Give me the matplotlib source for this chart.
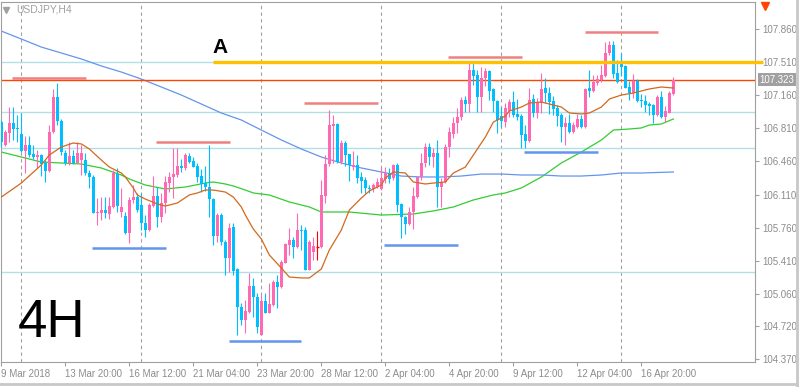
import numpy as np
import matplotlib
matplotlib.use('Agg')
from matplotlib import pyplot as plt
from matplotlib.lines import Line2D

# USDJPY H4 candles
opens = [106.877, 106.634, 106.761, 106.866, 106.814, 106.750, 106.571, 106.634, 106.539, 106.507,
         106.528, 106.444, 106.359, 106.771, 107.141, 106.888, 106.549, 106.444, 106.518, 106.444,
         106.475, 106.475, 106.338, 106.296, 105.915, 105.915, 105.947, 105.905, 105.979, 106.327,
         105.926, 105.884, 105.704, 106.053, 106.084, 106.000, 105.810, 105.736, 105.989, 106.095,
         105.873, 106.021, 106.232, 106.296, 106.317, 106.412, 106.391, 106.518, 106.465, 106.412,
         106.306, 106.232, 106.190, 106.063, 105.672, 105.894, 105.609, 105.440, 105.767, 105.324,
         104.922, 104.785, 104.869, 105.144, 105.028, 104.626, 104.986, 104.859, 104.943, 105.186,
         105.134, 105.387, 105.577, 105.630, 105.556, 105.736, 105.736, 105.313, 105.503, 105.556,
         105.556, 106.095, 106.433, 106.835, 106.856, 106.454, 106.655, 106.539, 106.401, 106.423,
         106.296, 106.264, 106.180, 106.169, 106.190, 106.169, 106.275, 106.338, 106.285, 106.423,
         106.011, 105.873, 105.799, 105.926, 106.084, 106.296, 106.444, 106.613, 106.507, 106.549,
         106.190, 106.243, 106.613, 106.750, 106.866, 106.930, 107.109, 107.067, 107.426, 107.374,
         107.141, 107.342, 107.416, 107.226, 107.099, 106.940, 106.877, 106.993, 107.088, 106.962,
         106.940, 106.750, 106.676, 107.120, 106.972, 107.078, 107.236, 107.183, 107.099, 107.025,
         106.951, 106.824, 106.866, 106.771, 106.824, 106.909, 106.824, 107.236, 107.205, 107.289,
         107.321, 107.363, 107.606, 107.691, 107.395, 107.500, 107.469, 107.247, 107.183, 107.310,
         107.109, 107.099, 107.067, 107.057, 106.951, 107.141, 106.930, 106.972, 107.173]
highs = [106.898, 106.792, 107.035, 107.035, 106.951, 106.972, 106.729, 106.729, 106.634, 106.581,
         106.539, 106.475, 106.845, 107.226, 107.289, 106.909, 106.581, 106.666, 106.581, 106.666,
         106.634, 106.549, 106.370, 106.317, 106.074, 106.084, 106.084, 106.084, 106.370, 106.391,
         106.180, 105.926, 106.084, 106.211, 106.127, 106.127, 105.894, 106.021, 106.306, 106.190,
         106.127, 106.306, 106.349, 106.602, 106.602, 106.486, 106.549, 106.549, 106.507, 106.444,
         106.380, 106.412, 106.634, 106.074, 105.915, 105.915, 105.630, 105.810, 105.810, 105.334,
         104.965, 104.996, 105.282, 105.229, 105.070, 105.049, 105.070, 105.176, 105.208, 105.260,
         105.419, 105.599, 105.757, 105.662, 105.915, 105.789, 105.767, 105.630, 105.662, 105.725,
         106.264, 106.528, 107.004, 106.951, 106.866, 106.687, 106.676, 106.539, 106.571, 106.528,
         106.349, 106.296, 106.211, 106.232, 106.285, 106.401, 106.401, 106.391, 106.433, 106.444,
         106.021, 105.884, 105.979, 106.190, 106.296, 106.549, 106.655, 106.655, 106.602, 106.687,
         106.285, 106.645, 106.824, 106.930, 107.025, 107.141, 107.152, 107.500, 107.500, 107.426,
         107.458, 107.447, 107.426, 107.236, 107.109, 107.035, 107.078, 107.120, 107.205, 107.120,
         106.962, 106.845, 107.236, 107.173, 107.131, 107.395, 107.342, 107.247, 107.152, 107.057,
         106.972, 106.930, 106.962, 106.877, 106.962, 106.951, 107.236, 107.426, 107.374, 107.374,
         107.479, 107.722, 107.733, 107.733, 107.532, 107.606, 107.479, 107.310, 107.384, 107.331,
         107.173, 107.162, 107.088, 107.067, 107.162, 107.205, 107.046, 107.205, 107.352]
lows = [106.613, 106.623, 106.666, 106.687, 106.666, 106.560, 106.338, 106.507, 106.486, 106.391,
        106.306, 106.243, 106.349, 106.761, 106.845, 106.528, 106.423, 106.423, 106.433, 106.444,
        106.317, 106.317, 106.180, 105.915, 105.789, 105.841, 105.863, 105.852, 105.968, 105.926,
        105.873, 105.694, 105.599, 106.021, 105.926, 105.736, 105.662, 105.725, 105.979, 105.767,
        105.820, 105.915, 106.137, 106.074, 106.296, 106.349, 106.370, 106.444, 106.401, 106.243,
        106.137, 106.148, 105.873, 105.577, 105.609, 105.577, 105.260, 105.292, 105.260, 104.626,
        104.732, 104.648, 104.859, 104.817, 104.648, 104.626, 104.859, 104.859, 104.933, 104.912,
        105.123, 105.387, 105.472, 105.440, 105.546, 105.525, 105.313, 105.313, 105.419, 105.419,
        105.546, 106.021, 106.412, 106.444, 106.444, 106.433, 106.412, 106.253, 106.370, 106.232,
        106.127, 106.127, 106.127, 106.137, 106.180, 106.158, 106.232, 106.232, 106.264, 105.926,
        105.651, 105.694, 105.789, 105.746, 106.074, 106.264, 106.401, 106.423, 106.401, 105.979,
        105.979, 106.232, 106.507, 106.708, 106.761, 106.898, 106.983, 106.983, 107.268, 106.983,
        106.983, 107.257, 107.109, 106.983, 106.761, 106.824, 106.824, 106.930, 106.930, 106.898,
        106.602, 106.602, 106.666, 106.930, 106.919, 106.972, 107.078, 106.962, 106.951, 106.835,
        106.666, 106.634, 106.761, 106.761, 106.814, 106.814, 106.814, 107.141, 107.194, 107.268,
        107.300, 107.352, 107.585, 107.342, 107.289, 107.363, 107.236, 107.109, 107.131, 107.088,
        107.035, 106.983, 106.951, 106.866, 106.940, 106.919, 106.877, 106.972, 107.162]
closes = [106.666, 106.771, 106.866, 106.803, 106.803, 106.571, 106.634, 106.528, 106.507, 106.528,
          106.433, 106.359, 106.771, 107.141, 106.888, 106.560, 106.444, 106.518, 106.444, 106.549,
          106.549, 106.338, 106.296, 105.915, 105.926, 105.947, 105.915, 105.989, 106.338, 105.989,
          105.979, 105.704, 106.053, 106.084, 105.947, 105.810, 105.736, 106.000, 106.095, 105.873,
          106.021, 106.243, 106.296, 106.327, 106.412, 106.391, 106.528, 106.454, 106.401, 106.296,
          106.222, 106.190, 106.063, 105.672, 105.894, 105.609, 105.440, 105.757, 105.303, 104.922,
          104.785, 104.880, 105.144, 105.028, 104.711, 104.986, 104.859, 104.954, 105.186, 105.134,
          105.398, 105.588, 105.630, 105.556, 105.736, 105.725, 105.313, 105.609, 105.567, 105.556,
          106.106, 106.433, 106.845, 106.856, 106.454, 106.655, 106.528, 106.423, 106.423, 106.285,
          106.253, 106.180, 106.169, 106.211, 106.243, 106.285, 106.338, 106.275, 106.423, 106.000,
          105.873, 105.799, 105.926, 106.095, 106.296, 106.444, 106.613, 106.507, 106.549, 106.190,
          106.243, 106.613, 106.771, 106.866, 106.930, 107.109, 107.067, 107.426, 107.363, 107.141,
          107.342, 107.416, 107.205, 107.099, 106.898, 106.888, 107.025, 107.088, 106.951, 106.930,
          106.740, 106.676, 107.109, 106.972, 107.088, 107.226, 107.183, 107.088, 107.014, 106.940,
          106.824, 106.866, 106.771, 106.845, 106.909, 106.824, 107.226, 107.205, 107.300, 107.331,
          107.374, 107.606, 107.691, 107.384, 107.300, 107.458, 107.236, 107.183, 107.310, 107.099,
          107.099, 107.057, 107.046, 106.951, 107.141, 106.930, 106.993, 107.183, 107.323]

# moving averages (bar index, price)
ma_fast_bar = [0, 5, 10, 12, 15, 18, 20, 22, 25, 27, 30, 31, 33, 34, 36, 39, 41, 44, 47, 49,
               51, 53, 56, 58, 60, 61, 63, 65, 67, 70, 72, 75, 77, 80, 82, 85, 87, 90, 92, 95,
               96, 98, 101, 103, 106, 108, 111, 113, 116, 118, 121, 123, 126, 127, 130, 132, 135, 137, 140, 142,
               145, 147, 150, 152, 155, 158, 160, 162, 165, 168]
ma_fast = [106.084, 106.232, 106.423, 106.528, 106.613, 106.655, 106.645, 106.592, 106.475, 106.401,
           106.338, 106.296, 106.180, 106.106, 106.063, 106.011, 105.989, 106.021, 106.106, 106.127,
           106.158, 106.158, 106.137, 106.084, 105.979, 105.894, 105.746, 105.641, 105.472, 105.334,
           105.239, 105.229, 105.229, 105.324, 105.525, 105.736, 105.947, 106.074, 106.148, 106.211,
           106.285, 106.349, 106.338, 106.243, 106.222, 106.232, 106.243, 106.338, 106.401, 106.528,
           106.718, 106.877, 106.940, 106.993, 107.035, 107.078, 107.088, 107.067, 107.035, 106.972,
           106.962, 106.972, 107.035, 107.120, 107.162, 107.183, 107.205, 107.226, 107.247, 107.236]
ma_mid_bar = [0, 5, 10, 15, 20, 25, 30, 32, 36, 41, 46, 51, 53, 56, 58, 61, 63, 67, 72, 77,
              80, 87, 95, 103, 108, 113, 118, 123, 126, 130, 135, 140, 145, 150, 153, 157, 160, 162, 165, 168]
ma_mid = [106.560, 106.507, 106.454, 106.444, 106.433, 106.391, 106.317, 106.275, 106.211, 106.169,
          106.190, 106.232, 106.243, 106.222, 106.201, 106.158, 106.127, 106.106, 106.032, 105.979,
          105.926, 105.926, 105.894, 105.905, 105.937, 105.979, 106.053, 106.106, 106.127, 106.180,
          106.296, 106.444, 106.560, 106.687, 106.792, 106.803, 106.814, 106.845, 106.856, 106.909]
ma_slow_bar = [0, 5, 10, 15, 20, 25, 30, 35, 40, 45, 50, 55, 60, 65, 70, 75, 80, 85, 90, 95,
               100, 105, 110, 115, 120, 125, 130, 135, 140, 145, 150, 155, 160, 168]
ma_slow = [107.838, 107.754, 107.669, 107.606, 107.543, 107.469, 107.405, 107.331, 107.247, 107.162,
           107.067, 106.972, 106.898, 106.792, 106.687, 106.592, 106.507, 106.444, 106.391, 106.349,
           106.306, 106.296, 106.296, 106.306, 106.327, 106.327, 106.317, 106.317, 106.306, 106.306,
           106.317, 106.338, 106.338, 106.349]

# horizontal levels
cyan_levels = [107.51, 106.98, 106.60, 105.29]
line_a = 107.51
line_a_start = 52.9
last_price = 107.323

# short resistance / support marks
res_start = [2.7, 38.7, 75.7, 111.7, 145.9]
res_end = [21.2, 57.2, 94.2, 130.2, 164.2]
res_price = [107.342, 106.666, 107.078, 107.564, 107.828]
sup_start = [22.7, 56.9, 95.7, 130.7]
sup_end = [41.2, 74.9, 114.2, 149.2]
sup_price = [105.546, 104.563, 105.577, 106.560]

grid_bars = [5, 35, 65, 95, 125, 155]
yticks = [107.860, 107.510, 107.160, 106.810, 106.460, 106.110, 105.760, 105.410, 105.060, 104.720, 104.370]
xtick_bars = [0, 16, 32, 48, 64, 80, 96, 112, 128, 144, 160]
xtick_labels = ['9 Mar 2018', '13 Mar 20:00', '16 Mar 12:00', '21 Mar 04:00', '23 Mar 20:00',
                '28 Mar 12:00', '2 Apr 04:00', '4 Apr 20:00', '9 Apr 12:00', '12 Apr 04:00', '16 Apr 20:00']

plt.rcParams['font.family'] = ['Liberation Sans', 'DejaVu Sans']
gray = '#A0A0A0'

fig = plt.figure(figsize=(7.99, 3.87), dpi=100)
ax = fig.add_axes([1/799, 25/387, 754/799, 360/387])

#Grid
for g in grid_bars:
    ax.axvline(g, color=gray, lw=0.8, ls=(0, (3, 3)), zorder=0)

for lv in cyan_levels:
    ax.axhline(lv, color='#B0E0E6', lw=1, zorder=1)

#Candles
o = np.array(opens); h = np.array(highs); l = np.array(lows); c = np.array(closes)
x = np.arange(len(o))
up = c > o
dn = c < o
fl = c == o
body = np.maximum(np.abs(c - o), 0.009)
ax.vlines(x[up], l[up], h[up], color='#FF69B4', lw=0.8, zorder=3)
ax.vlines(x[dn], l[dn], h[dn], color='#00BFFF', lw=0.8, zorder=3)
ax.vlines(x[fl], l[fl], h[fl], color='#FF0000', lw=0.8, zorder=3)
ax.bar(x[up], body[up], bottom=o[up], width=0.72, color='#FF69B4', lw=0, zorder=3)
ax.bar(x[dn], body[dn], bottom=c[dn], width=0.72, color='#00BFFF', lw=0, zorder=3)
ax.hlines(o[fl], x[fl] - 0.4, x[fl] + 0.4, color='#FF0000', lw=1, zorder=3)

#Moving averages
ax.plot(ma_fast_bar, ma_fast, color='#D2691E', lw=0.9, zorder=4)
ax.plot(ma_mid_bar, ma_mid, color='#32CD32', lw=0.9, zorder=2)
ax.plot(ma_slow_bar, ma_slow, color='#6495ED', lw=0.9, zorder=2)

#Lines drawn on the chart
ax.axhline(last_price, color='#FF4500', lw=1, zorder=2)
ax.hlines(line_a, line_a_start, 190.4, color='#FFC000', lw=2.4, zorder=5, clip_on=False)
ax.hlines(res_price, res_start, res_end, color='#F08080', lw=1.8, zorder=5)
ax.hlines(sup_price, sup_start, sup_end, color='#6495ED', lw=1.8, zorder=5)
ax.text(line_a_start, 107.606, 'A', fontsize=15, fontweight='bold', color='black', ha='left', va='baseline')
ax.text(0.0225, 0.069, '4H', fontsize=38, color='black', transform=ax.transAxes, ha='left', va='baseline')

#Axes
ax.set_xlim(-0.075, 188.4)
ax.set_ylim(104.341, 108.145)
ax.yaxis.tick_right()
ax.set_yticks(yticks)
ax.set_yticklabels(['{:.3f}'.format(v) for v in yticks])
ax.set_xticks(xtick_bars)
ax.set_xticklabels(xtick_labels, ha='left')
ax.tick_params(axis='both', colors=gray, labelcolor='#8C8C8C', length=3, width=0.8, labelsize=7, pad=2)
for s in ax.spines.values():
    s.set_color(gray)
    s.set_linewidth(0.8)

# price tag and header
ax.text(1.006, last_price, '{:.3f}'.format(last_price), transform=ax.get_yaxis_transform(),
        fontsize=7, color='white', va='center', ha='left', clip_on=False,
        bbox=dict(boxstyle='square,pad=0.15', fc='#A0A0A0', ec='none'))
ax.plot([0.006], [0.979], marker='v', color=gray, markersize=4, transform=ax.transAxes, clip_on=False)
ax.text(0.02, 0.979, 'USDJPY,H4', fontsize=7.5, color=gray, transform=ax.transAxes, va='center')
ax.plot([1.0126], [0.99], marker='v', color='#FF4500', markersize=6, transform=ax.transAxes, clip_on=False)

fig.add_artist(Line2D([0, 1], [0.0065, 0.0065], color='#C8C8C8', lw=2, transform=fig.transFigure))
fig.add_artist(Line2D([0.998, 0.998], [0, 1], color='#C8C8C8', lw=2, transform=fig.transFigure))

fig.savefig('out.png', dpi=100)
